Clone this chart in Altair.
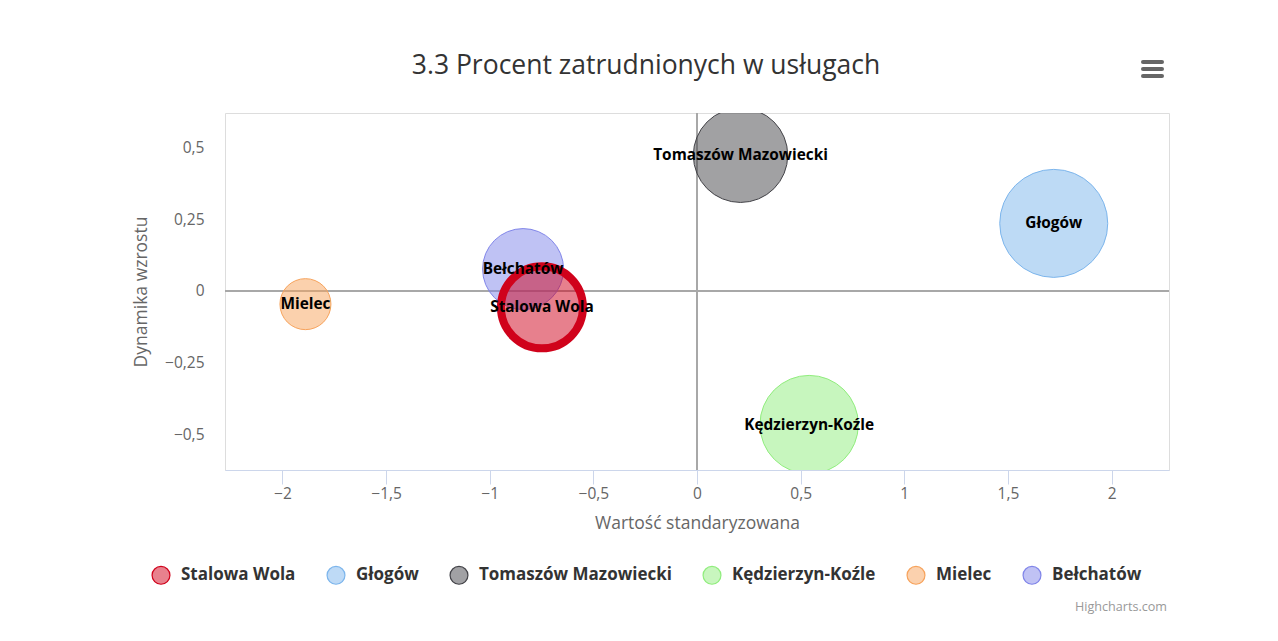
import altair as alt
import pandas as pd

# --- data ---
miasta = ["Stalowa Wola", "Głogów", "Tomaszów Mazowiecki", "Kędzierzyn-Koźle", "Mielec", "Bełchatów"]
wartosc_std = [-0.748, 1.721, 0.210, 0.541, -1.889, -0.839]
dynamika = [-0.057, 0.235, 0.472, -0.465, -0.046, 0.076]
wielkosc = [1681, 2916, 2228, 2420, 650, 1640]
kolory = ["#d0021b", "#7cb5ec", "#434348", "#90ed7d", "#f7a35c", "#8085e9"]
kolory_jasne = ["#e8818d", "#bedaf6", "#a1a1a4", "#c8f6be", "#fbd1ae", "#c0c2f4"]
x_ticks = [-2, -1.5, -1, -0.5, 0, 0.5, 1, 1.5, 2]
y_ticks = [-0.5, -0.25, 0, 0.25, 0.5]

df = pd.DataFrame({"miasto": miasta, "x": wartosc_std, "y": dynamika, "z": wielkosc})
# Stalowa Wola is drawn on top (highlighted series)
df_draw = pd.concat([df.iloc[1:], df.iloc[:1]]).reset_index(drop=True)

FONT = "Open Sans"
W, H = 944, 357
LABEL_EXPR = "replace(format(datum.value, ''), '.', ',')"

xscale = alt.Scale(domain=[-2.277, 2.277], nice=False, zero=False)
yscale = alt.Scale(domain=[-0.623, 0.619], nice=False, zero=False)
# Vega circle: radius = sqrt(size) / 2, so size = 4 * r^2 (z is proportional to r^2)
sizescale = alt.Scale(domain=[0, max(wielkosc)], range=[0, 4 * max(wielkosc)])

x_enc = alt.X("x:Q", scale=xscale, title="Wartość standaryzowana",
              axis=alt.Axis(values=x_ticks, grid=False, domain=True, domainColor="#ccd6eb",
                            ticks=True, tickSize=14, tickColor="#ccd6eb", labelPadding=2,
                            labelExpr=LABEL_EXPR,
                            labelFont=FONT, labelFontSize=15.5, labelColor="#666666",
                            titleFont=FONT, titleFontSize=17.5, titleFontWeight="normal",
                            titleColor="#666666", titlePadding=13))
y_enc = alt.Y("y:Q", scale=yscale, title="Dynamika wzrostu",
              axis=alt.Axis(values=y_ticks, grid=False, domain=False, ticks=False, tickSize=0,
                            labelPadding=21, labelExpr=LABEL_EXPR,
                            labelFont=FONT, labelFontSize=15.5, labelColor="#666666",
                            titleFont=FONT, titleFontSize=17.5, titleFontWeight="normal",
                            titleColor="#666666", titlePadding=14))

legend = alt.Legend(orient="none", legendX=-74, legendY=452, direction="horizontal", title=None,
                    labelFont=FONT, labelFontSize=17, labelFontWeight="bold", labelColor="#333333",
                    labelLimit=400, symbolType="circle", symbolSize=320, symbolStrokeWidth=1.2,
                    symbolOpacity=1, columnPadding=28, labelOffset=10, padding=0)

zero_df = pd.DataFrame({"zero": [0]})
vline = alt.Chart(zero_df).mark_rule(color="#a8a8a8", strokeWidth=2).encode(x=alt.datum(0))
hline = alt.Chart(zero_df).mark_rule(color="#a8a8a8", strokeWidth=2).encode(y=alt.datum(0))

bubbles = alt.Chart(df_draw).mark_circle(opacity=1, fillOpacity=0.5, strokeOpacity=1, clip=True).encode(
    x=x_enc,
    y=y_enc,
    size=alt.Size("z:Q", scale=sizescale, legend=None),
    fill=alt.Fill("miasto:N", scale=alt.Scale(domain=miasta, range=kolory), legend=None),
    stroke=alt.Stroke("miasto:N", scale=alt.Scale(domain=miasta, range=kolory), legend=None),
    strokeWidth=alt.condition(alt.datum.miasto == "Stalowa Wola", alt.value(8), alt.value(1)),
)

# invisible layer that only carries the legend (symbols drawn like Highcharts' legend)
legend_layer = alt.Chart(df).mark_circle(opacity=0).encode(
    x="x:Q", y="y:Q",
    fill=alt.Fill("miasto:N", scale=alt.Scale(domain=miasta, range=kolory_jasne), legend=legend),
    stroke=alt.Stroke("miasto:N", scale=alt.Scale(domain=miasta, range=kolory), legend=legend),
)

labels = alt.Chart(df).mark_text(font=FONT, fontSize=15.4, fontWeight="bold", color="#000000",
                                 align="center", baseline="middle").encode(
    x="x:Q", y="y:Q", text="miasto:N")

one = pd.DataFrame({"a": [0]})
menu_layers = [
    alt.Chart(one).mark_rule(color="#666666", strokeWidth=4, strokeCap="round").encode(
        x=alt.value(918), x2=alt.value(937), y=alt.value(yy))
    for yy in (-51, -44, -37)
]
credits = alt.Chart(one).mark_text(font=FONT, fontSize=12.6, color="#999999", align="right",
                                   baseline="alphabetic").encode(
    x=alt.value(942), y=alt.value(498), text=alt.value("Highcharts.com"))

chart = alt.layer(vline, hline, bubbles, legend_layer, labels, credits, *menu_layers).resolve_scale(
    fill="independent", stroke="independent"
).properties(
    width=W, height=H,
    title=alt.TitleParams("3.3 Procent zatrudnionych w usługach", font=FONT, fontSize=26.5,
                          fontWeight="normal", color="#333333", anchor="middle", dx=-51,
                          baseline="alphabetic", offset=-40),
    autosize=alt.AutoSizeParams(type="none"),
    padding={"left": 217, "top": 105, "right": 101, "bottom": 163},
).configure_view(stroke="#cdd3dc", strokeWidth=1).configure(background="white")

chart.save("out.html", embed_options={"renderer": "svg", "actions": False})
